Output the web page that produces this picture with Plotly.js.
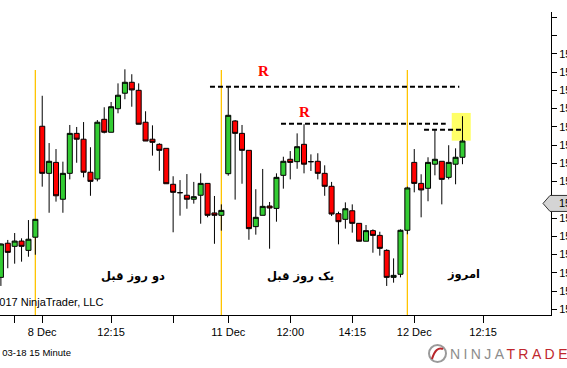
<!DOCTYPE html>
<html>
<head>
<meta charset="utf-8">
<script src="https://cdn.plot.ly/plotly-3.0.1.min.js"></script>
<style>
html,body{margin:0;padding:0;overflow:hidden;background:#fff;}
#chart{width:620px;height:368px;}
</style>
</head>
<body>
<div id="chart"></div>
<script>
// ---- data (RTY 03-18, 15 minute bars) ----
const openP = [1511.75,1513.62,1513.45,1513.74,1513.23,1513.95,1520.03,1517.45,1518.05,1516.03,
1517.45,1519.64,1519.32,1517.51,1517.14,1520.41,1519.70,1520.99,1521.84,1522.44,
1522.00,1520.25,1519.32,1519.04,1518.82,1516.85,1516.39,1516.25,1516.03,1516.25,
1516.90,1515.28,1515.15,1517.43,1520.32,1519.64,1518.71,1514.53,1515.15,1515.66,
1515.53,1517.34,1518.22,1518.09,1519.04,1518.09,1518.11,1517.45,1516.74,1515.24,
1514.93,1515.40,1514.71,1513.73,1514.31,1514.05,1513.23,1511.75,1511.92,1514.33,
1518.05,1516.90,1516.63,1517.95,1518.11,1517.23,1517.95,1518.33];
const highP = [1513.61,1513.80,1514.18,1513.89,1514.89,1514.95,1521.70,1519.11,1518.78,1518.09,
1520.10,1519.99,1520.26,1518.88,1520.37,1521.07,1521.36,1522.38,1523.15,1522.88,
1522.38,1520.85,1520.08,1519.10,1518.82,1517.29,1517.08,1517.41,1516.98,1517.45,
1516.90,1516.21,1515.75,1522.20,1520.37,1520.10,1518.71,1516.58,1517.69,1515.88,
1517.45,1518.36,1518.67,1519.64,1520.14,1518.49,1518.55,1517.89,1516.98,1515.35,
1515.86,1515.75,1514.71,1514.62,1514.38,1514.25,1513.29,1512.79,1514.38,1516.72,
1518.78,1517.40,1518.33,1519.82,1518.11,1518.99,1518.82,1520.58];
const lowP = [1511.28,1512.25,1512.50,1512.61,1512.88,1512.99,1516.72,1515.29,1515.90,1515.29,
1517.12,1518.03,1517.23,1516.22,1517.01,1519.64,1519.70,1520.74,1521.51,1521.10,
1520.14,1519.22,1518.42,1517.59,1516.88,1514.22,1515.13,1515.51,1515.79,1514.69,
1515.04,1513.59,1514.31,1517.32,1516.01,1516.88,1513.81,1514.09,1515.15,1513.32,
1514.80,1516.61,1517.12,1517.70,1517.45,1517.58,1517.12,1516.22,1515.11,1513.56,
1514.42,1514.20,1513.73,1513.73,1513.10,1512.94,1511.28,1511.46,1511.75,1514.11,
1516.41,1515.04,1515.92,1517.34,1515.75,1517.12,1516.85,1517.95];
const closeP = [1513.58,1513.12,1513.74,1513.45,1513.84,1514.93,1517.45,1518.11,1516.22,1517.45,
1519.64,1519.32,1517.51,1517.01,1520.25,1519.70,1521.10,1521.73,1522.44,1522.02,
1520.14,1519.22,1519.15,1518.71,1516.88,1516.41,1516.39,1516.03,1516.17,1516.90,
1515.15,1515.15,1515.42,1520.63,1519.64,1518.71,1514.42,1515.04,1515.64,1515.55,
1517.23,1518.11,1518.05,1518.91,1517.95,1518.09,1517.45,1516.74,1515.22,1514.80,
1515.51,1514.71,1513.73,1514.31,1514.05,1513.34,1511.75,1511.86,1514.33,1516.65,
1516.90,1516.54,1518.05,1518.22,1517.12,1518.05,1518.33,1519.22];

// x-axis ticks (bar positions) and labels
const xTickPos = [2, 6, 16, 25, 33, 42, 51, 60, 70];
const xTickText = ['', '8 Dec', '12:15', '', '11 Dec', '12:00', '14:15', '12 Dec', '12:15'];
// y-axis ticks
const yTickVals = [1510,1511,1512,1513,1514,1515,1516,1517,1518,1519,1520,1521,1522,1523,1524,1525,1526];
const yTickText = ['1510.0','1511.0','1512.0','1513.0','1514.0','1515.0','','1517.0','1518.0','1519.0','1520.0','1521.0','1522.0','1523.0','1524.0','',''];
// session breaks (bar positions)
const sessionBreaks = [5, 32, 59];
// resistance levels: [price, fromBar, toBar]
const resistLevels = [[1522.20, 30.35, 66.54], [1520.17, 40.66, 64.57], [1519.84, 61.42, 67.12]];
// "R" labels: [bar, price]
const rLabels = [[38.05, 1523.06], [44.0, 1520.81]];
// highlight box: [fromBar, toBar, lowPrice, highPrice]
const highlight = [65.44, 68.2, 1519.24, 1520.76];
// day labels (Persian): [text, bar, price]
const dayLabels = [['دو روز قبل', 19.18, 1511.82], ['یک روز قبل', 43.42, 1511.82], ['امروز', 67.08, 1511.93]];
const markerPrice = 1515.8;

const xIdx = openP.map((_, i) => i);

const PW = 551, PT = 12, PB = 315, PH = PB - PT;
const px2paperX = p => p / PW;
const py2paperY = p => (PB - p) / PH;

const trace = {
  type: 'candlestick',
  x: xIdx, open: openP, high: highP, low: lowP, close: closeP,
  increasing: {line: {color: '#000', width: 1}, fillcolor: '#33cc33'},
  decreasing: {line: {color: '#000', width: 1}, fillcolor: '#ff0000'},
  whiskerwidth: 0,
  hoverinfo: 'skip',
  showlegend: false
};

const shapes = [];
sessionBreaks.forEach(b => shapes.push({
  type: 'line', xref: 'x', yref: 'paper', x0: b, x1: b, y0: 0, y1: py2paperY(70),
  line: {color: '#ffc400', width: 1.3}, layer: 'below'
}));
shapes.push({
  type: 'rect', xref: 'x', yref: 'y', x0: highlight[0], x1: highlight[1], y0: highlight[2], y1: highlight[3],
  fillcolor: '#ffff66', line: {width: 0}, layer: 'below'
});
resistLevels.forEach(r => shapes.push({
  type: 'line', xref: 'x', yref: 'y', x0: r[1], x1: r[2], y0: r[0], y1: r[0],
  line: {color: '#000', width: 2, dash: '5px,3px'}, layer: 'above'
}));
// price marker on the right axis
const dyu = 8 / 18.25;
shapes.push({
  type: 'path', xref: 'paper', yref: 'y',
  path: `M ${px2paperX(543)} ${markerPrice} L ${px2paperX(550)} ${markerPrice + dyu} L ${px2paperX(600)} ${markerPrice + dyu} L ${px2paperX(600)} ${markerPrice - dyu} L ${px2paperX(550)} ${markerPrice - dyu} Z`,
  fillcolor: '#d4d4d4', line: {color: '#333', width: 1}, layer: 'above'
});
// logo circle
shapes.push({
  type: 'circle', xref: 'paper', yref: 'paper',
  x0: px2paperX(429), x1: px2paperX(446), y0: py2paperY(362), y1: py2paperY(345),
  line: {color: '#9a9a9a', width: 2}, fillcolor: 'rgba(0,0,0,0)'
});
shapes.push({
  type: 'path', xref: 'paper', yref: 'paper',
  path: `M ${px2paperX(432)} ${py2paperY(359)} Q ${px2paperX(436)} ${py2paperY(346)} ${px2paperX(443)} ${py2paperY(349)}`,
  line: {color: '#b8262b', width: 2}
});

const annotations = [];
rLabels.forEach(r => annotations.push({
  x: r[0], y: r[1], xref: 'x', yref: 'y', text: '<b>R</b>', showarrow: false,
  font: {family: 'Liberation Serif, DejaVu Serif, serif', size: 15, color: '#ff0000'}
}));
dayLabels.forEach(d => annotations.push({
  x: d[1], y: d[2], xref: 'x', yref: 'y', text: '<b>' + d[0] + '</b>', showarrow: false,
  font: {family: 'DejaVu Sans, sans-serif', size: 11.5, color: '#000'}
}));
annotations.push({
  x: px2paperX(105), y: py2paperY(302), xref: 'paper', yref: 'paper', xanchor: 'right', yanchor: 'middle',
  text: '© 2017 NinjaTrader, LLC', showarrow: false,
  font: {family: 'Liberation Sans, Arial, sans-serif', size: 11, color: '#000'}
});
annotations.push({
  x: px2paperX(73), y: py2paperY(352), xref: 'paper', yref: 'paper', xanchor: 'right', yanchor: 'middle',
  text: 'RTY 03-18 15 Minute', showarrow: false,
  font: {family: 'Liberation Sans, Arial, sans-serif', size: 9.5, color: '#000'}
});
annotations.push({
  x: px2paperX(448), y: py2paperY(354), xref: 'paper', yref: 'paper', xanchor: 'left', yanchor: 'middle',
  text: '<span style="color:#8c8c8c;letter-spacing:3.4px">NINJA</span><span style="color:#c0272d;letter-spacing:3.4px">TRADER</span>',
  showarrow: false,
  font: {family: 'Liberation Sans, Arial, sans-serif', size: 14, color: '#8c8c8c'}
});
annotations.push({
  x: px2paperX(557), y: markerPrice, xref: 'paper', yref: 'y', xanchor: 'left', yanchor: 'middle',
  text: markerPrice.toFixed(1), showarrow: false,
  font: {family: 'Liberation Sans, Arial, sans-serif', size: 11, color: '#000'}
});

const layout = {
  width: 620, height: 368,
  margin: {l: 0, r: 620 - PW, t: PT, b: 368 - PB, pad: 0},
  paper_bgcolor: '#fff', plot_bgcolor: '#fff',
  showlegend: false,
  boxgap: 0.27, boxgroupgap: 0,
  xaxis: {
    range: [-0.13, 79.85], showgrid: false, zeroline: false,
    showline: true, linecolor: '#000', linewidth: 1,
    ticks: 'outside', ticklen: 7, tickcolor: '#000', tickwidth: 1,
    tickmode: 'array', tickvals: xTickPos, ticktext: xTickText,
    tickfont: {family: 'Liberation Sans, Arial, sans-serif', size: 11, color: '#000'},
    rangeslider: {visible: false}, fixedrange: true, automargin: false
  },
  yaxis: {
    side: 'right', range: [1509.688, 1526.29], showgrid: false, zeroline: false,
    showline: true, linecolor: '#000', linewidth: 1,
    ticks: 'outside', ticklen: 5, tickcolor: '#000', tickwidth: 1,
    tickmode: 'array', tickvals: yTickVals, ticktext: yTickText,
    tickfont: {family: 'Liberation Sans, Arial, sans-serif', size: 11, color: '#000'},
    fixedrange: true, automargin: false
  },
  shapes: shapes,
  annotations: annotations
};

Plotly.newPlot('chart', [trace], layout, {displayModeBar: false, staticPlot: true});
</script>
</body>
</html>
